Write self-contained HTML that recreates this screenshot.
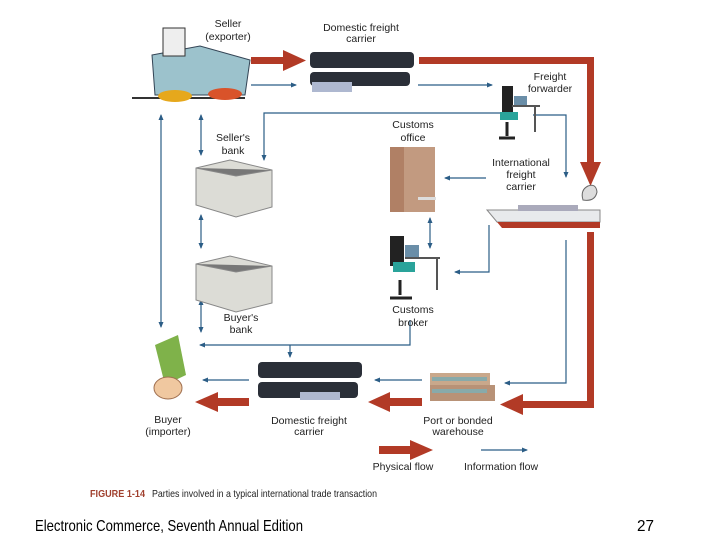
<!DOCTYPE html>
<html><head><meta charset="utf-8"><style>
html,body{margin:0;padding:0;background:#fff;width:720px;height:540px;overflow:hidden}
svg{display:block}
text{font-family:"Liberation Sans",Arial,sans-serif;fill:#222}
</style></head><body>
<svg width="720" height="540" viewBox="0 0 720 540" xmlns="http://www.w3.org/2000/svg">
<defs>
<marker id="b" markerWidth="6" markerHeight="6" refX="5" refY="3" orient="auto" markerUnits="userSpaceOnUse"><path d="M0,0.5 L6,3 L0,5.5z" fill="#2b5d86"/></marker>
<marker id="bs" markerWidth="6" markerHeight="6" refX="1" refY="3" orient="auto" markerUnits="userSpaceOnUse"><path d="M6,0.5 L0,3 L6,5.5z" fill="#2b5d86"/></marker>
</defs>
<g stroke="#2b5d86" stroke-width="1.2" fill="none">
<path d="M251,85 H296" marker-end="url(#b)"/>
<path d="M418,85 H492" marker-end="url(#b)"/>
<path d="M500,113 H264 V160" marker-end="url(#b)"/>
<path d="M533,115 H566 V177" marker-end="url(#b)"/>
<path d="M486,178 H445" marker-end="url(#b)"/>
<path d="M489,225 V272 H455" marker-end="url(#b)"/>
<path d="M430,218 V248" marker-start="url(#bs)" marker-end="url(#b)"/>
<path d="M410,320 V345 H200" marker-end="url(#b)"/>
<path d="M290,345 V357" marker-end="url(#b)"/>
<path d="M422,380 H375" marker-end="url(#b)"/>
<path d="M249,380 H203" marker-end="url(#b)"/>
<path d="M566,240 V383 H505" marker-end="url(#b)"/>
<path d="M201,115 V155" marker-start="url(#bs)" marker-end="url(#b)"/>
<path d="M201,215 V248" marker-start="url(#bs)" marker-end="url(#b)"/>
<path d="M201,300 V332" marker-start="url(#bs)" marker-end="url(#b)"/>
<path d="M161,115 V327" marker-start="url(#bs)" marker-end="url(#b)"/>
<path d="M481,450 H527" marker-end="url(#b)"/>
</g>
<g fill="#b23a26">
<rect x="251" y="57" width="34" height="7"/><path d="M283,50 L306,60.5 L283,71z"/>
<path d="M419,57 H594 V165 H587 V64 H419z"/><path d="M580,162 L601,162 L590.5,186z"/>
<path d="M587,232 H594 V408 H520 V401 H587z"/><path d="M523,394 L500,404.5 L523,415z"/>
<rect x="390" y="398" width="32" height="8"/><path d="M390,392 L368,402 L390,412z"/>
<rect x="218" y="398" width="31" height="8"/><path d="M218,392 L195,402 L218,412z"/>
<rect x="379" y="446" width="33" height="8"/><path d="M410,440 L433,450 L410,460z"/>
</g>
<path d="M152,55 L200,46 L250,60 L245,95 L155,95z" fill="#9cc2cc" stroke="#345" stroke-width="1"/>
<rect x="163" y="28" width="22" height="28" fill="#eee" stroke="#333"/>
<path d="M132,98 H245" stroke="#333" stroke-width="2"/>
<ellipse cx="175" cy="96" rx="17" ry="6" fill="#e6a81c"/><ellipse cx="225" cy="94" rx="17" ry="6" fill="#d9532a"/>
<g fill="#2a2f38"><rect x="310" y="52" width="104" height="16" rx="4"/><rect x="310" y="72" width="100" height="14" rx="4"/><rect x="312" y="82" width="40" height="10" fill="#aeb8d0"/></g>
<g fill="#2a2f38"><rect x="258" y="362" width="104" height="16" rx="4"/><rect x="258" y="382" width="100" height="16" rx="4"/><rect x="300" y="392" width="40" height="8" fill="#aeb8d0"/></g>
<rect x="502" y="86" width="11" height="30" fill="#222"/><rect x="500" y="112" width="18" height="8" fill="#2aa39a"/><rect x="514" y="96" width="13" height="11" fill="#6a8ea8"/><path d="M512,106 H540 M535,106 V132" stroke="#555" stroke-width="2"/><path d="M507,122 V136 M499,138 H515" stroke="#222" stroke-width="3"/>
<rect x="390" y="147" width="45" height="65" fill="#b08065"/><rect x="404" y="147" width="31" height="65" fill="#c29a80"/><rect x="418" y="197" width="18" height="3" fill="#ddd"/>
<path d="M487,210 H600 V222 H497z" fill="#e8eaec" stroke="#888"/><path d="M497,222 H600 V228 H502z" fill="#b23a26"/><rect x="518" y="205" width="60" height="6" fill="#aab"/>
<path d="M583,200 q-3,-10 5,-14 q8,-3 9,6 q-2,10 -14,8z" fill="#ddd" stroke="#666"/>
<path d="M196,168 L230,160 L272,170 L272,207 L236,217 L196,205z" fill="#dcdcd6" stroke="#888"/><path d="M196,168 L236,176 L272,170" stroke="#888" fill="#777"/>
<path d="M196,264 L230,256 L272,266 L272,303 L236,312 L196,300z" fill="#dcdcd6" stroke="#888"/><path d="M196,264 L236,272 L272,266" stroke="#888" fill="#777"/>
<rect x="390" y="236" width="14" height="30" fill="#222"/><rect x="393" y="262" width="22" height="10" fill="#2aa39a"/><rect x="405" y="245" width="14" height="12" fill="#6a8ea8"/><path d="M405,258 H440 M437,258 V290" stroke="#555" stroke-width="2"/><path d="M400,280 V295 M390,298 H412" stroke="#222" stroke-width="3"/>
<path d="M155,345 L178,335 L186,375 L165,385z" fill="#7fb24a"/><ellipse cx="168" cy="388" rx="14" ry="11" fill="#f0c8a0" stroke="#a07050"/>
<rect x="430" y="373" width="60" height="14" fill="#c9a88b"/><rect x="430" y="385" width="65" height="16" fill="#b89277"/><rect x="432" y="377" width="55" height="4" fill="#8aa"/><rect x="432" y="389" width="55" height="4" fill="#8aa"/>
<g font-size="10.5" text-anchor="middle">
<text x="228" y="27">Seller</text><text x="228" y="40">(exporter)</text>
<text x="361" y="31">Domestic freight</text><text x="361" y="42">carrier</text>
<text x="550" y="80">Freight</text><text x="550" y="92">forwarder</text>
<text x="233" y="141">Seller's</text><text x="233" y="154">bank</text>
<text x="413" y="128">Customs</text><text x="413" y="141">office</text>
<text x="521" y="166">International</text><text x="521" y="178">freight</text><text x="521" y="190">carrier</text>
<text x="241" y="321">Buyer's</text><text x="241" y="333">bank</text>
<text x="413" y="313">Customs</text><text x="413" y="326">broker</text>
<text x="168" y="423">Buyer</text><text x="168" y="435">(importer)</text>
<text x="309" y="424">Domestic freight</text><text x="309" y="435">carrier</text>
<text x="458" y="424">Port or bonded</text><text x="458" y="435">warehouse</text>
<text x="403" y="470">Physical flow</text><text x="501" y="470">Information flow</text>
</g>
<text x="90" y="497" font-size="10.5" font-weight="bold" style="fill:#a0402e" textLength="55" lengthAdjust="spacingAndGlyphs">FIGURE 1-14</text>
<text x="152" y="497" font-size="10.5" textLength="225" lengthAdjust="spacingAndGlyphs">Parties involved in a typical international trade transaction</text>
<text x="35" y="531" font-size="16" style="fill:#000" textLength="268" lengthAdjust="spacingAndGlyphs">Electronic Commerce, Seventh Annual Edition</text>
<text x="637" y="531" font-size="16" style="fill:#000" textLength="17" lengthAdjust="spacingAndGlyphs">27</text>
</svg>
</body></html>
